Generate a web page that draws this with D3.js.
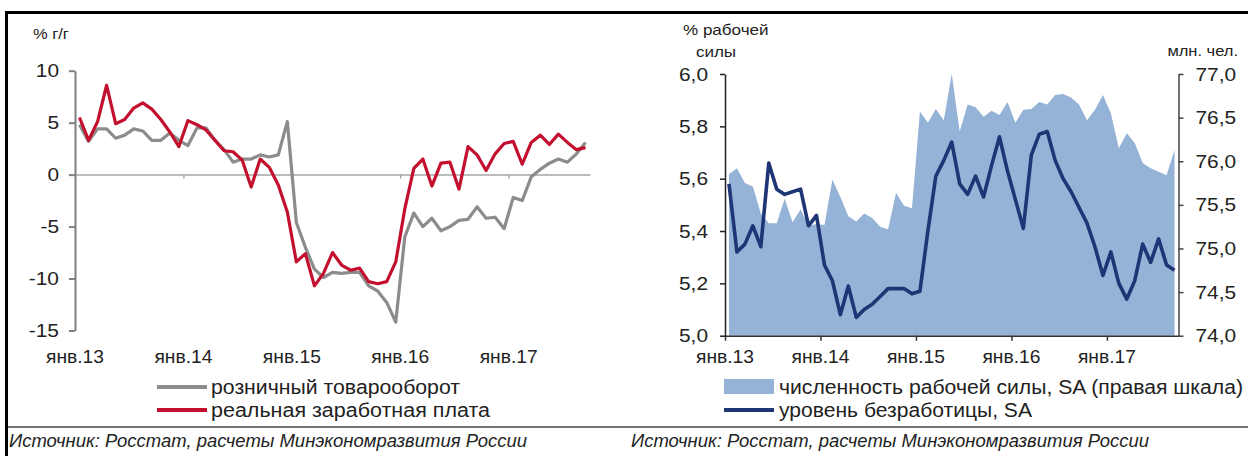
<!DOCTYPE html>
<html>
<head>
<meta charset="utf-8">
<script src="https://d3js.org/d3.v7.min.js"></script>
<style>
  body { margin: 0; background: #fff; }
  svg { display: block; font-family: "Liberation Sans", Arial, sans-serif; }
</style>
</head>
<body>
<svg id="chart" width="1248" height="456"></svg>
<script>
// ---- data (monthly, Jan 2013 - Sep 2017)
const months = d3.timeMonth.range(new Date(2013, 0, 1), new Date(2017, 9, 1));
const yearLabels = ["янв.13", "янв.14", "янв.15", "янв.16", "янв.17"];
const yearIdx = [0, 12, 24, 36, 48];

// left chart, % y/y
const retail = [4.8, 3.2, 4.4, 4.4, 3.5, 3.8, 4.4, 4.2, 3.3, 3.3, 4.0, 3.3,
  2.8, 4.5, 4.5, 3.3, 2.4, 1.2, 1.5, 1.5, 1.9, 1.7, 1.9, 5.1,
  -4.6, -7.0, -9.1, -9.9, -9.4, -9.5, -9.4, -9.4, -10.7, -11.2, -12.3, -14.2,
  -6.0, -3.7, -5.0, -4.2, -5.4, -5.0, -4.4, -4.3, -3.1, -4.2, -4.1, -5.2,
  -2.2, -2.5, -0.2, 0.5, 1.1, 1.5, 1.2, 2.0, 3.1];
const wages = [5.5, 3.3, 5.1, 8.6, 4.9, 5.3, 6.4, 6.9, 6.3, 5.3, 4.1, 2.7,
  5.2, 4.8, 4.3, 3.3, 2.3, 2.2, 1.4, -1.2, 1.5, 0.7, -1.0, -3.6,
  -8.4, -7.6, -10.7, -9.5, -7.5, -8.7, -9.2, -9.0, -10.3, -10.5, -10.3, -8.4,
  -3.3, 0.6, 1.5, -1.1, 1.1, 1.2, -1.4, 2.7, 1.9, 0.4, 2.0, 3.0,
  3.2, 1.0, 3.1, 3.8, 2.9, 3.9, 3.1, 2.4, 2.6];
const leftTicks = [10, 5, 0, -5, -10, -15];

// right chart
const unemployment = [5.58, 5.32, 5.35, 5.42, 5.34, 5.66, 5.56, 5.54, 5.55, 5.56, 5.42, 5.46,
  5.27, 5.21, 5.08, 5.19, 5.07, 5.10, 5.12, 5.15, 5.18, 5.18, 5.18, 5.16,
  5.17, 5.40, 5.61, 5.67, 5.74, 5.58, 5.54, 5.61, 5.53, 5.65, 5.76, 5.63,
  5.52, 5.41, 5.69, 5.77, 5.78, 5.67, 5.60, 5.55, 5.49, 5.43, 5.34, 5.23,
  5.32, 5.20, 5.14, 5.21, 5.35, 5.28, 5.37, 5.27, 5.25];
const labourForce = [75.85, 75.92, 75.75, 75.71, 75.40, 75.29, 75.29, 75.57, 75.30, 75.45, 75.26, 75.28,
  75.27, 75.79, 75.59, 75.37, 75.31, 75.40, 75.35, 75.25, 75.22, 75.64, 75.49, 75.46,
  76.57, 76.44, 76.60, 76.47, 77.00, 76.34, 76.65, 76.62, 76.51, 76.58, 76.53, 76.68,
  76.44, 76.59, 76.60, 76.68, 76.65, 76.76, 76.77, 76.73, 76.65, 76.47, 76.59, 76.76,
  76.55, 76.15, 76.32, 76.21, 75.98, 75.92, 75.88, 75.84, 76.13];
const unempTicks = [5.0, 5.2, 5.4, 5.6, 5.8, 6.0];
const lfTicks = [74.0, 74.5, 75.0, 75.5, 76.0, 76.5, 77.0];

const SX = 1.1; // picture is stretched sideways, so the text is too
const comma = d => d3.format(".1f")(d).replace(".", ",");
const plain = d => String(d);

const svg = d3.select("#chart");

// stretch text glyphs horizontally, keeping their anchor point
function stretch(sel) {
  sel.each(function () {
    const t = d3.select(this);
    const x = +t.attr("x") || 0;
    t.attr("x", x / SX).attr("transform", `scale(${SX},1)`);
  });
}
function label(g, x, y, str, size, anchor) {
  return g.append("text")
    .attr("x", x / SX).attr("y", y)
    .attr("transform", `scale(${SX},1)`)
    .attr("font-size", size)
    .attr("text-anchor", anchor || "start")
    .attr("fill", "#222")
    .text(str);
}
function tickText(g) {
  g.selectAll(".tick text").attr("font-size", 19).attr("fill", "#222")
    .attr("font-family", "Liberation Sans, Arial, sans-serif").call(stretch);
}

// frame
svg.append("rect").attr("x", 5).attr("y", 11).attr("width", 1243).attr("height", 3).attr("fill", "#000");
svg.append("rect").attr("x", 5).attr("y", 11).attr("width", 3).attr("height", 445).attr("fill", "#000");
svg.append("line").attr("x1", 8).attr("x2", 1248).attr("y1", 427).attr("y2", 427)
  .attr("stroke", "#444").attr("stroke-width", 1.5);

// ================= left chart
const gL = svg.append("g");
const xL = d3.scaleLinear().domain([0, months.length]).range([75, 590]);
const yL = d3.scaleLinear().domain([-15, 10]).range([330.5, 70.7]);

// zero line with year ticks
gL.append("g").attr("transform", `translate(0,${yL(0)})`)
  .call(d3.axisBottom(xL).tickValues(yearIdx.slice(1)).tickSize(4).tickSizeOuter(0).tickFormat(""))
  .call(g => g.select(".domain").attr("stroke", "#a6a6a6").attr("stroke-width", 1.5))
  .call(g => g.selectAll(".tick line").attr("stroke", "#a6a6a6").attr("stroke-width", 1.5));

// y axis
gL.append("g").attr("transform", "translate(75,0)")
  .call(d3.axisLeft(yL).tickValues(leftTicks).tickFormat(plain).tickSize(6).tickSizeOuter(0).tickPadding(10))
  .call(g => g.select(".domain").attr("stroke", "#7f7f7f").attr("stroke-width", 2))
  .call(g => g.selectAll(".tick line").attr("stroke", "#7f7f7f").attr("stroke-width", 2))
  .call(tickText);

// year labels
yearIdx.forEach((m, k) => label(gL, xL(m), 363, yearLabels[k], 17.5, "middle"));

label(gL, 33, 39, "% г/г", 15);

const lineL = d3.line().x((d, i) => xL(i + 0.5)).y(d => yL(d));
gL.append("path").datum(retail).attr("d", lineL)
  .attr("fill", "none").attr("stroke", "#8c8c8c").attr("stroke-width", 3.2).attr("stroke-linejoin", "round");
gL.append("path").datum(wages).attr("d", lineL)
  .attr("fill", "none").attr("stroke", "#c3102f").attr("stroke-width", 3.2).attr("stroke-linejoin", "round");

// legend
gL.append("line").attr("x1", 157).attr("x2", 207).attr("y1", 387).attr("y2", 387)
  .attr("stroke", "#8c8c8c").attr("stroke-width", 4);
gL.append("text").attr("x", 211).attr("y", 393.5).attr("font-size", 20).attr("fill", "#222")
  .attr("textLength", 249).attr("lengthAdjust", "spacingAndGlyphs").text("розничный товарооборот");
gL.append("line").attr("x1", 157).attr("x2", 207).attr("y1", 410).attr("y2", 410)
  .attr("stroke", "#c3102f").attr("stroke-width", 4);
gL.append("text").attr("x", 211).attr("y", 416.5).attr("font-size", 20).attr("fill", "#222")
  .attr("textLength", 279).attr("lengthAdjust", "spacingAndGlyphs").text("реальная заработная плата");

// ================= right chart
const gR = svg.append("g");
const xR = d3.scaleLinear().domain([0, months.length]).range([725, 1178.5]);
const yR = d3.scaleLinear().domain([5, 6]).range([335.7, 74]);
const yR2 = d3.scaleLinear().domain([74, 77]).range([335.7, 74]);

const area = d3.area().x((d, i) => xR(i + 0.5)).y0(yR2(74)).y1(d => yR2(d));
gR.append("path").datum(labourForce).attr("d", area).attr("fill", "#95b3d7");

const lineR = d3.line().x((d, i) => xR(i + 0.5)).y(d => yR(d));
gR.append("path").datum(unemployment).attr("d", lineR)
  .attr("fill", "none").attr("stroke", "#1f3576").attr("stroke-width", 3.6).attr("stroke-linejoin", "round");

// x axis
gR.append("g").attr("transform", `translate(0,${yR(5)})`)
  .call(d3.axisBottom(xR).tickValues(yearIdx).tickSize(5).tickSizeOuter(0).tickFormat(""))
  .call(g => g.select(".domain").attr("stroke", "#333").attr("stroke-width", 1.5))
  .call(g => g.selectAll(".tick line").attr("stroke", "#333").attr("stroke-width", 1.5));
yearIdx.forEach((m, k) => label(gR, xR(m), 363, yearLabels[k], 17.5, "middle"));

// left y axis
gR.append("g").attr("transform", "translate(725,0)")
  .call(d3.axisLeft(yR).tickValues(unempTicks).tickFormat(comma).tickSize(5).tickSizeOuter(0).tickPadding(12))
  .call(g => g.select(".domain").attr("stroke", "#222").attr("stroke-width", 1.5))
  .call(g => g.selectAll(".tick line").attr("stroke", "#222").attr("stroke-width", 1.5))
  .call(tickText);

// right y axis
gR.append("g").attr("transform", "translate(1178.5,0)")
  .call(d3.axisRight(yR2).tickValues(lfTicks).tickFormat(comma).tickSize(5).tickSizeOuter(0).tickPadding(12))
  .call(g => g.select(".domain").attr("stroke", "#444").attr("stroke-width", 1.5))
  .call(g => g.selectAll(".tick line").attr("stroke", "#444").attr("stroke-width", 1.5))
  .call(tickText);

label(gR, 683, 35, "% рабочей", 15.5);
label(gR, 716, 57, "силы", 15.5, "middle");
label(gR, 1238, 56, "млн. чел.", 15, "end");

// legend
gR.append("rect").attr("x", 724).attr("y", 379).attr("width", 50).attr("height", 15).attr("fill", "#95b3d7");
gR.append("text").attr("x", 779).attr("y", 393.5).attr("font-size", 20).attr("fill", "#222")
  .attr("textLength", 464).attr("lengthAdjust", "spacingAndGlyphs").text("численность рабочей силы, SA (правая шкала)");
gR.append("line").attr("x1", 724).attr("x2", 774).attr("y1", 410).attr("y2", 410)
  .attr("stroke", "#1f3576").attr("stroke-width", 4);
gR.append("text").attr("x", 779).attr("y", 416.5).attr("font-size", 20).attr("fill", "#222")
  .attr("textLength", 253).attr("lengthAdjust", "spacingAndGlyphs").text("уровень безработицы, SA");

// sources
[9, 631].forEach(x => {
  svg.append("text").attr("x", x).attr("y", 447).attr("font-size", 17.5)
    .attr("font-style", "italic").attr("fill", "#222")
    .attr("textLength", 518).attr("lengthAdjust", "spacingAndGlyphs")
    .text("Источник: Росстат, расчеты Минэкономразвития России");
});
</script>
</body>
</html>
